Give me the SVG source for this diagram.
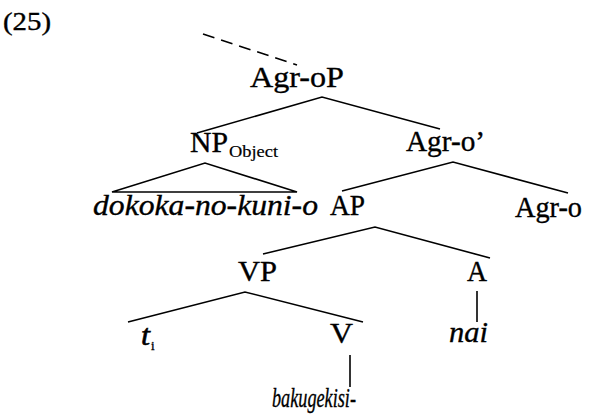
<svg xmlns="http://www.w3.org/2000/svg" width="590" height="414" viewBox="0 0 590 414">
  <style>
    .lbl { font-family: "Liberation Serif", "Times New Roman", serif; font-size: 29px; fill: #000; stroke: #000; stroke-width: 0.35; }
    .it { font-style: italic; }
    .edge { stroke: #000; stroke-width: 1.6; fill: none; stroke-linejoin: miter; }
  </style>
  <rect width="590" height="414" fill="#fff"/>

  <text class="lbl" x="3" y="30" style="font-size:25px" textLength="48" lengthAdjust="spacingAndGlyphs">(25)</text>

  <g id="connectors">
    <line class="edge" x1="203" y1="34" x2="297" y2="65" stroke-dasharray="12 7"/>
    <polyline class="edge" points="197,133 322,97 440,129"/>
    <polygon class="edge" points="112,192 205,163 297,192"/>
    <polyline class="edge" points="342,191 453,162 568,193"/>
    <polyline class="edge" points="263,254 375,227 490,258"/>
    <polyline class="edge" points="128,322 245,292 363,322"/>
    <line class="edge" x1="477" y1="291" x2="477" y2="322"/>
    <line class="edge" x1="350" y1="355" x2="350" y2="387"/>
  </g>

  <g id="agr-oP"><text class="lbl" x="250" y="87" style="font-size:30px" textLength="94" lengthAdjust="spacingAndGlyphs">Agr-oP</text></g>
  <g id="np-object">
    <text class="lbl" x="190" y="152" textLength="38" lengthAdjust="spacingAndGlyphs">NP</text>
    <text class="lbl" x="229" y="157" style="font-size:17px;stroke-width:0.2" textLength="49" lengthAdjust="spacingAndGlyphs">Object</text>
  </g>
  <g id="agr-o-bar"><text class="lbl" x="406" y="151" textLength="79" lengthAdjust="spacingAndGlyphs">Agr-o’</text></g>
  <g id="object-np"><text class="lbl it" x="93" y="215" textLength="225" lengthAdjust="spacingAndGlyphs">dokoka-no-kuni-o</text></g>
  <g id="ap"><text class="lbl" x="330" y="215" textLength="35" lengthAdjust="spacingAndGlyphs">AP</text></g>
  <g id="agr-o"><text class="lbl" x="515" y="217" textLength="67" lengthAdjust="spacingAndGlyphs">Agr-o</text></g>
  <g id="vp"><text class="lbl" x="238" y="281" textLength="39" lengthAdjust="spacingAndGlyphs">VP</text></g>
  <g id="a"><text class="lbl" x="467" y="281" textLength="20" lengthAdjust="spacingAndGlyphs">A</text></g>
  <g id="trace">
    <text class="lbl it" x="141" y="345" style="stroke-width:0.6" textLength="9" lengthAdjust="spacingAndGlyphs">t</text>
    <text class="lbl" x="151" y="350" style="font-size:13px;stroke-width:0.3">i</text>
  </g>
  <g id="v"><text class="lbl" x="330" y="343" textLength="23" lengthAdjust="spacingAndGlyphs">V</text></g>
  <g id="nai"><text class="lbl it" x="449" y="342" textLength="39" lengthAdjust="spacingAndGlyphs">nai</text></g>
  <g id="verb"><text class="lbl it" x="272" y="407" style="font-size:27px" textLength="84" lengthAdjust="spacingAndGlyphs">bakugekisi-</text></g>
</svg>
